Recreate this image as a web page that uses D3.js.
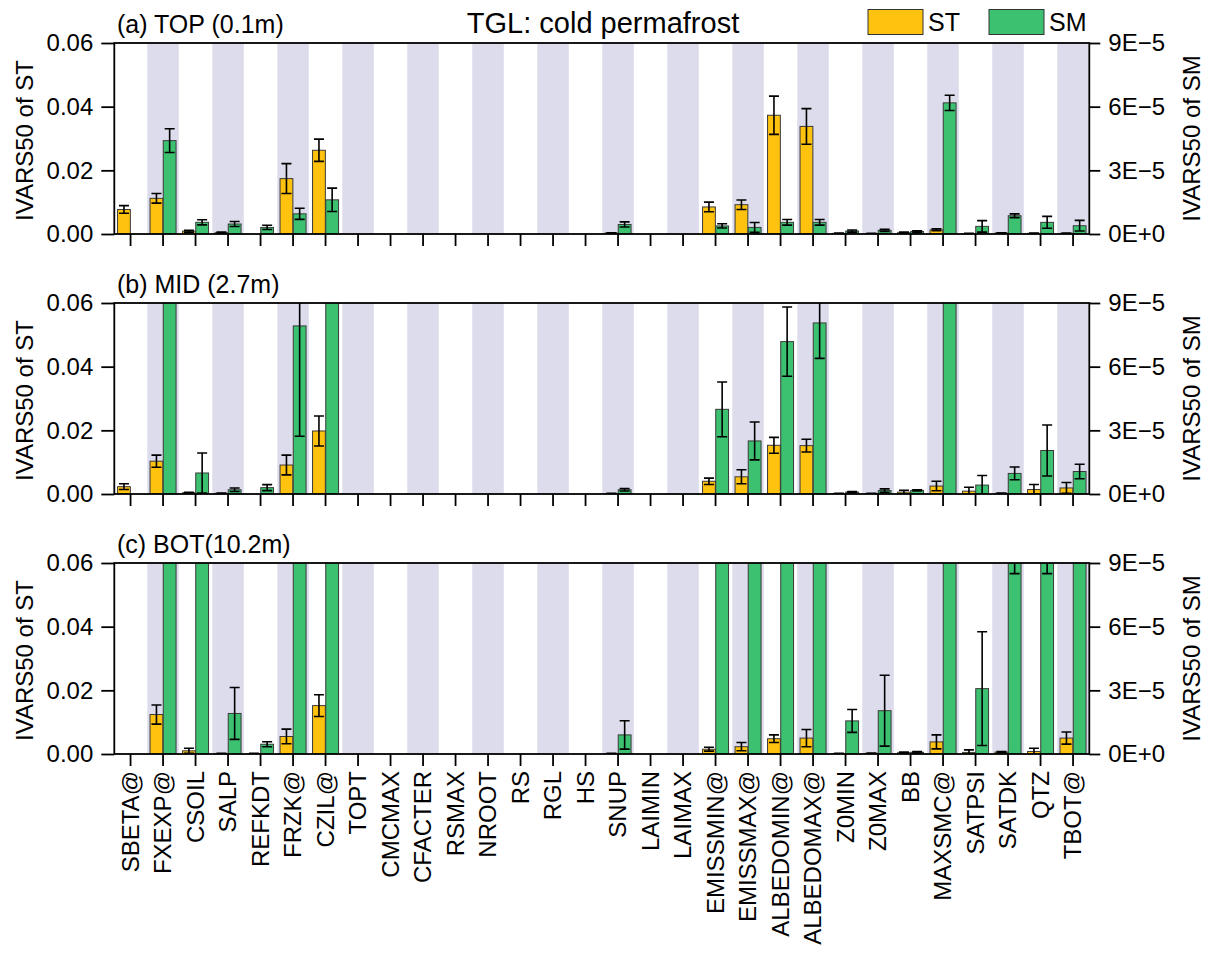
<!DOCTYPE html>
<html>
<head>
<meta charset="utf-8">
<script src="https://cdn.jsdelivr.net/npm/d3@7"></script>
<style>
  body { margin: 0; background: #fff; }
  text { font-family: "Liberation Sans", Arial, sans-serif; fill: #000; }
</style>
</head>
<body>
<svg id="chart" width="1208" height="953"></svg>
<script>
// parameters on the x axis
const categories = ["SBETA@", "FXEXP@", "CSOIL", "SALP", "REFKDT", "FRZK@", "CZIL@", "TOPT",
  "CMCMAX", "CFACTER", "RSMAX", "NROOT", "RS", "RGL", "HS", "SNUP", "LAIMIN", "LAIMAX",
  "EMISSMIN@", "EMISSMAX@", "ALBEDOMIN@", "ALBEDOMAX@", "Z0MIN", "Z0MAX", "BB", "MAXSMC@",
  "SATPSI", "SATDK", "QTZ", "TBOT@"]

const panelLabels = ["(a) TOP (0.1m)", "(b) MID (2.7m)", "(c) BOT(10.2m)"]

// ST values (left axis) and their error half-widths
const stTop = [0.0077, 0.0112, 0.0009, 0.0004, 0, 0.0174, 0.0263, 0, 0, 0, 0, 0, 0, 0, 0, 0.0003, 0, 0,
  0.0085, 0.0092, 0.0373, 0.0338, 0.0002, 0.0001, 0.0004, 0.0013, 0.0001, 0.0003, 0.0002, 0.0002]
const stTopErr = [0.0012, 0.0015, 0.0003, 0.0002, 0, 0.0047, 0.0035, 0, 0, 0, 0, 0, 0, 0, 0, 0.0001, 0, 0,
  0.0015, 0.0015, 0.006, 0.0056, 0.0001, 0.0001, 0.0002, 0.0003, 0.0001, 0.0001, 0.0001, 0.0001]
const stMid = [0.0023, 0.0103, 0.0004, 0.0002, 0, 0.0091, 0.0198, 0, 0, 0, 0, 0, 0, 0, 0, 0.0001, 0, 0,
  0.004, 0.0054, 0.0153, 0.0152, 0.0001, 0.0001, 0.0006, 0.0025, 0.0009, 0.0002, 0.0014, 0.0019]
const stMidErr = [0.0009, 0.0019, 0.0001, 0.0001, 0, 0.0031, 0.0047, 0, 0, 0, 0, 0, 0, 0, 0, 0.0001, 0, 0,
  0.001, 0.0022, 0.0025, 0.002, 0.0001, 0.0001, 0.0006, 0.0015, 0.0012, 0.0001, 0.0016, 0.0017]
const stBot = [0, 0.0124, 0.001, 0.0001, 0.0001, 0.0055, 0.0152, 0, 0, 0, 0, 0, 0, 0, 0, 0.0001, 0, 0,
  0.0015, 0.0023, 0.0048, 0.005, 0.0001, 0.0002, 0.0004, 0.0038, 0.0005, 0.0006, 0.0008, 0.005]
const stBotErr = [0, 0.003, 0.0008, 0.0001, 0.0001, 0.0023, 0.0034, 0, 0, 0, 0, 0, 0, 0, 0, 0.0001, 0, 0,
  0.0006, 0.0013, 0.0012, 0.0027, 0.0001, 0.0001, 0.0002, 0.0022, 0.0008, 0.0002, 0.001, 0.0019]

// SM values (right axis, in units of 1E-5) and their error half-widths; 15 = off the scale
const smTop = [0, 4.4, 0.55, 0.47, 0.31, 0.95, 1.61, 0, 0, 0, 0, 0, 0, 0, 0, 0.45, 0, 0,
  0.38, 0.31, 0.55, 0.55, 0.14, 0.17, 0.12, 6.18, 0.36, 0.86, 0.55, 0.39]
const smTopErr = [0, 0.56, 0.12, 0.12, 0.1, 0.26, 0.55, 0, 0, 0, 0, 0, 0, 0, 0, 0.12, 0, 0,
  0.1, 0.23, 0.13, 0.13, 0.05, 0.05, 0.03, 0.36, 0.27, 0.09, 0.28, 0.25]
const smMid = [0, 15, 0.99, 0.2, 0.3, 7.92, 15, 0, 0, 0, 0, 0, 0, 0, 0, 0.2, 0, 0,
  3.99, 2.5, 7.18, 8.06, 0.09, 0.16, 0.17, 15, 0.42, 0.97, 2.05, 1.06]
const smMidErr = [0, 0, 0.94, 0.08, 0.14, 5.2, 0, 0, 0, 0, 0, 0, 0, 0, 0, 0.06, 0, 0,
  1.29, 0.89, 1.63, 1.67, 0.03, 0.08, 0.03, 0, 0.45, 0.3, 1.2, 0.34]
const smBot = [0, 15, 15, 1.91, 0.46, 15, 15, 0, 0, 0, 0, 0, 0, 0, 0, 0.9, 0, 0,
  15, 15, 15, 15, 1.56, 2.04, 0.08, 15, 3.08, 9.6, 9.6, 15]
const smBotErr = [0, 0, 0, 1.22, 0.12, 0, 0, 0, 0, 0, 0, 0, 0, 0, 0, 0.67, 0, 0,
  0, 0, 0, 0, 0.54, 1.67, 0.03, 0, 2.68, 1.1, 1.1, 0]

const stTicks = [0, 0.02, 0.04, 0.06]
const smTicks = [0, 3, 6, 9]

const panels = [
  { label: panelLabels[0], st: stTop, stErr: stTopErr, sm: smTop, smErr: smTopErr },
  { label: panelLabels[1], st: stMid, stErr: stMidErr, sm: smMid, smErr: smMidErr },
  { label: panelLabels[2], st: stBot, stErr: stBotErr, sm: smBot, smErr: smBotErr }
]

const colors = { ST: "#ffc20e", SM: "#3cc170", band: "#dcdcec" }
const left = 114.3, right = 1089.3, panelH = 191
const tops = [43, 303, 563]

const svg = d3.select("#chart")

const x = d3.scaleBand().domain(categories).range([left, right])
const bw = x.bandwidth()
const xi = d3.scaleBand().domain(["ST", "SM"]).range([0.1 * bw, 0.9 * bw]).paddingInner(0.03)

// title and legend
svg.append("text").attr("x", 603).attr("y", 33).attr("text-anchor", "middle")
  .style("font-size", "29px").text("TGL: cold permafrost")

const legend = [{ key: "ST", x: 868 }, { key: "SM", x: 989 }]
legend.forEach(l => {
  svg.append("rect").attr("x", l.x).attr("y", 9.5).attr("width", 55).attr("height", 25)
    .attr("fill", colors[l.key]).attr("stroke", "#333").attr("stroke-width", 1)
  svg.append("text").attr("x", l.x + 60).attr("y", 31).style("font-size", "25px").text(l.key)
})

panels.forEach((p, k) => {
  const top = tops[k], bottom = top + panelH
  const yL = d3.scaleLinear().domain([0, 0.06]).range([bottom, top])
  const yR = d3.scaleLinear().domain([0, 9]).range([bottom, top])
  const g = svg.append("g")

  // shaded bands on every other parameter
  g.selectAll("rect.band")
    .data(categories.filter((c, i) => i % 2 === 1))
    .join("rect")
    .attr("class", "band")
    .attr("x", d => x(d) + 0.5)
    .attr("y", top)
    .attr("width", bw - 1)
    .attr("height", panelH)
    .attr("fill", colors.band)

  const clipId = "clip" + k
  g.append("clipPath").attr("id", clipId)
    .append("rect").attr("x", left).attr("y", top).attr("width", right - left).attr("height", panelH)

  const rows = []
  categories.forEach((c, i) => {
    rows.push({ cat: c, key: "ST", v: p.st[i], e: p.stErr[i], y: yL })
    rows.push({ cat: c, key: "SM", v: p.sm[i], e: p.smErr[i], y: yR })
  })
  const shown = rows.filter(d => d.v > 0)

  const marks = g.append("g").attr("clip-path", `url(#${clipId})`)
  marks.selectAll("rect.bar")
    .data(shown)
    .join("rect")
    .attr("class", "bar")
    .attr("x", d => x(d.cat) + xi(d.key))
    .attr("y", d => d.y(d.v))
    .attr("width", xi.bandwidth())
    .attr("height", d => bottom - d.y(d.v))
    .attr("fill", d => colors[d.key])
    .attr("stroke", "#3a3a3a")
    .attr("stroke-width", 1)

  const errs = marks.selectAll("g.err")
    .data(shown.filter(d => d.e > 0))
    .join("g")
    .attr("class", "err")
    .attr("stroke", "#000")
    .attr("stroke-width", 1.6)
  const cx = d => x(d.cat) + xi(d.key) + xi.bandwidth() / 2
  errs.append("line")
    .attr("x1", cx).attr("x2", cx)
    .attr("y1", d => d.y(d.v - d.e)).attr("y2", d => d.y(d.v + d.e))
  errs.append("line")
    .attr("x1", d => cx(d) - 5).attr("x2", d => cx(d) + 5)
    .attr("y1", d => d.y(d.v - d.e)).attr("y2", d => d.y(d.v - d.e))
  errs.append("line")
    .attr("x1", d => cx(d) - 5).attr("x2", d => cx(d) + 5)
    .attr("y1", d => d.y(d.v + d.e)).attr("y2", d => d.y(d.v + d.e))

  // frame
  g.append("rect").attr("x", left).attr("y", top).attr("width", right - left).attr("height", panelH)
    .attr("fill", "none").attr("stroke", "#000").attr("stroke-width", 1.8)

  // axes
  const axL = g.append("g").attr("transform", `translate(${left},0)`)
    .call(d3.axisLeft(yL).tickValues(stTicks).tickFormat(d3.format(".2f")).tickSize(13).tickPadding(8))
  const axR = g.append("g").attr("transform", `translate(${right},0)`)
    .call(d3.axisRight(yR).tickValues(smTicks)
      .tickFormat(d => d === 0 ? "0E+0" : d + "E\u22125").tickSize(11).tickPadding(8))
  const axB = g.append("g").attr("transform", `translate(0,${bottom})`)
    .call(d3.axisBottom(x).tickSize(12).tickFormat(k === 2 ? d => d : ""))
  ;[axL, axR, axB].forEach(a => {
    a.select(".domain").remove()
    a.selectAll(".tick line").attr("stroke", "#000").attr("stroke-width", 1.8)
    a.selectAll(".tick text").style("font-size", "24px").attr("fill", "#000")
  })
  if (k === 2) {
    axB.selectAll(".tick text")
      .style("font-size", "24px")
      .attr("text-anchor", "end")
      .attr("dy", "0.35em")
      .attr("transform", "translate(0,17) rotate(-90)")
      .attr("x", 0).attr("y", 0)
  }

  // panel label and axis titles
  g.append("text").attr("x", 117).attr("y", top - 10).style("font-size", "25px").text(p.label)
  g.append("text").attr("transform", `translate(33,${top + panelH / 2 + 2}) rotate(-90)`)
    .attr("text-anchor", "middle").style("font-size", "24px").text("IVARS50 of ST")
  g.append("text").attr("transform", `translate(1200,${top + panelH / 2}) rotate(-90)`)
    .attr("text-anchor", "middle").style("font-size", "24px").text("IVARS50 of SM")
})
</script>
</body>
</html>
